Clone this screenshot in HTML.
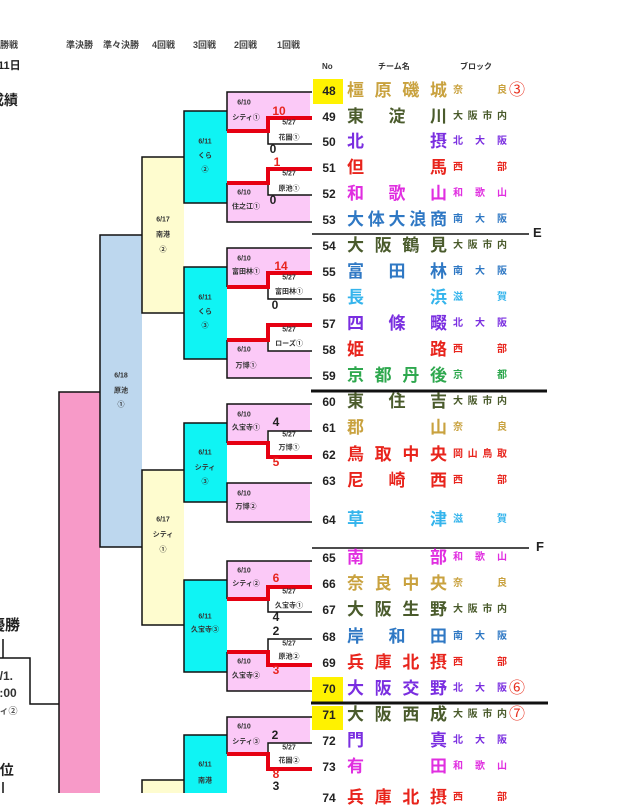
<!DOCTYPE html>
<html><head><meta charset="utf-8">
<style>
html,body{margin:0;padding:0;background:#fff;}
body{width:640px;height:793px;position:relative;overflow:hidden;font-family:"Liberation Sans","Noto Sans CJK JP",sans-serif;}
svg{position:absolute;left:0;top:0;}
.row{position:absolute;left:0;width:640px;height:26px;}
.n{position:absolute;left:320px;width:18px;text-align:center;font-size:12px;font-weight:bold;color:#222;line-height:26px;}
.t{position:absolute;left:347px;width:100px;display:flex;justify-content:space-between;font-size:17px;font-weight:bold;line-height:26px;}
.b{position:absolute;left:453px;width:54px;display:flex;justify-content:space-between;font-size:10px;font-weight:bold;line-height:26px;}
.c{position:absolute;left:509px;font-size:16px;color:#e8301f;line-height:26px;}
.yl{position:absolute;background:#fff200;}
.gold{color:#c9a23f}.olive{color:#4a5b2c}.pur{color:#7a2ee0}.red{color:#e8241c}.mag{color:#e02ee0}.blu{color:#2f78c4}.lb{color:#34b4ec}.grn{color:#2ea84e}
</style></head><body>

<div class="yl" style="left:313px;top:79px;width:30px;height:25px"></div>
<div class="yl" style="left:312px;top:677px;width:31px;height:25px"></div>
<div class="yl" style="left:312px;top:706px;width:31px;height:24px"></div>

<svg width="640" height="793" viewBox="0 0 640 793" font-family="Liberation Sans, Noto Sans CJK JP, sans-serif">
<!-- header -->
<g font-size="9" font-weight="bold" fill="#444">
<text x="-9" y="48">決勝戦</text>
<text x="66" y="48">準決勝</text>
<text x="103" y="48">準々決勝</text>
<text x="152" y="48">4回戦</text>
<text x="193" y="48">3回戦</text>
<text x="234" y="48">2回戦</text>
<text x="277" y="48">1回戦</text>
</g>
<text x="-13" y="69" font-size="11" font-weight="bold" fill="#222">月11日</text>
<text x="-10" y="105" font-size="14" font-weight="bold" fill="#222">成績</text>
<text x="-10" y="630" font-size="15" font-weight="bold" fill="#222">優勝</text>
<text x="-7" y="680" font-size="12" font-weight="bold" fill="#333">7/1.</text>
<text x="-14" y="697" font-size="12" font-weight="bold" fill="#333">10:00</text>
<text x="-18" y="714" font-size="9" font-weight="bold" fill="#555">シティ②</text>
<text x="-8" y="775" font-size="14" font-weight="bold" fill="#222">3位</text>

<g font-size="8" font-weight="bold" fill="#333">
<text x="322" y="69">No</text>
<text x="378" y="69">チーム名</text>
<text x="460" y="69">ブロック</text>
</g>

<!-- big boxes -->
<rect x="59" y="392" width="41" height="401" fill="#f79ac8"/>
<rect x="100" y="235" width="42" height="312" fill="#bdd7ee"/>
<rect x="142" y="157" width="42" height="156" fill="#fefccf"/>
<rect x="142" y="470" width="42" height="155" fill="#fefccf"/>
<rect x="142" y="780" width="42" height="13" fill="#fefccf"/>
<rect x="184" y="111" width="43" height="92" fill="#0ff4f4"/>
<rect x="184" y="267" width="43" height="92" fill="#0ff4f4"/>
<rect x="184" y="423" width="43" height="79" fill="#0ff4f4"/>
<rect x="184" y="580" width="43" height="92" fill="#0ff4f4"/>
<rect x="184" y="735" width="43" height="58" fill="#0ff4f4"/>
<!-- 2nd round pink -->
<g fill="#fbc9f7">
<rect x="227" y="92" width="83" height="39"/>
<rect x="227" y="183" width="83" height="39"/>
<rect x="227" y="248" width="83" height="39"/>
<rect x="227" y="340" width="83" height="38"/>
<rect x="227" y="404" width="83" height="39"/>
<rect x="227" y="483" width="83" height="39"/>
<rect x="227" y="561" width="83" height="38"/>
<rect x="227" y="652" width="83" height="39"/>
<rect x="227" y="717" width="83" height="37"/>
</g>
<!-- 1st round white boxes -->
<g fill="#fff">
<rect x="267" y="118" width="43" height="26"/>
<rect x="267" y="169" width="43" height="26"/>
<rect x="267" y="273" width="43" height="26"/>
<rect x="267" y="325" width="43" height="26"/>
<rect x="267" y="431" width="43" height="26"/>
<rect x="267" y="587" width="43" height="25"/>
<rect x="267" y="639" width="43" height="26"/>
<rect x="267" y="743" width="43" height="26"/>
</g>

<!-- black lines -->
<g stroke="#111" stroke-width="1.5" fill="none">
<path d="M3 639V658M0 658H30V704H59M3 782V793"/>
<path d="M100 392H59V793"/>
<path d="M142 235H100V547H142"/>
<path d="M184 157H142V313H184"/>
<path d="M184 470H142V625H184"/>
<path d="M184 780H142V793"/>
<path d="M227 111H184V203H227"/>
<path d="M227 267H184V359H227"/>
<path d="M227 423H184V502H227"/>
<path d="M227 580H184V672H227"/>
<path d="M227 735H184V793"/>
<!-- pink 2nd round -->
<path d="M312 92H227V131"/>
<path d="M227 183V222H312"/>
<path d="M312 248H227V287"/>
<path d="M227 340V378H312"/>
<path d="M312 404H227V443"/>
<path d="M312 483H227V522H312"/>
<path d="M312 561H227V599"/>
<path d="M227 652V691H312"/>
<path d="M312 717H227V754"/>
<!-- 1st round boxes -->
<path d="M268 118V144H312"/>
<path d="M268 169V195H312"/>
<path d="M268 273V299H312"/>
<path d="M268 325V351H312"/>
<path d="M312 431H268V457"/>
<path d="M268 587V612H312"/>
<path d="M312 639H268V665"/>
<path d="M312 743H268V769"/>
</g>
<!-- red winner lines -->
<g stroke="#e60012" stroke-width="4" fill="none">
<path d="M312 118H268V131H227"/>
<path d="M312 169H268V183H227"/>
<path d="M312 273H268V287H227"/>
<path d="M312 325H268V340H227"/>
<path d="M312 457H268V443H227"/>
<path d="M312 587H268V599H227"/>
<path d="M312 665H268V652H227"/>
<path d="M312 769H268V754H227"/>
</g>

<!-- table separators -->
<g stroke="#111" fill="none">
<path d="M312 234H529" stroke-width="1.5"/>
<path d="M311 391H547" stroke-width="3"/>
<path d="M312 548H529" stroke-width="1.5"/>
<path d="M311 703H548" stroke-width="3"/>
</g>
<text x="533" y="237" font-size="13" font-weight="bold" fill="#222">E</text>
<text x="536" y="551" font-size="13" font-weight="bold" fill="#222">F</text>

<!-- box labels -->
<g font-size="7" font-weight="bold" fill="#333" text-anchor="middle" dominant-baseline="central">
<text x="121" y="376">6/18</text><text x="121" y="391">原池</text><text x="121" y="405">①</text>
<text x="163" y="220">6/17</text><text x="163" y="235">南港</text><text x="163" y="250">②</text>
<text x="163" y="520">6/17</text><text x="163" y="535">シティ</text><text x="163" y="550">①</text>
<text x="205" y="142">6/11</text><text x="205" y="156">くら</text><text x="205" y="170">②</text>
<text x="205" y="298">6/11</text><text x="205" y="312">くら</text><text x="205" y="326">③</text>
<text x="205" y="453">6/11</text><text x="205" y="468">シティ</text><text x="205" y="482">③</text>
<text x="205" y="617">6/11</text><text x="205" y="630">久宝寺③</text>
<text x="205" y="765">6/11</text><text x="205" y="781">南港</text>

<text x="244" y="103">6/10</text><text x="246" y="118">シティ①</text>
<text x="244" y="193">6/10</text><text x="246" y="207">住之江①</text>
<text x="244" y="259">6/10</text><text x="246" y="272">富田林①</text>
<text x="244" y="350">6/10</text><text x="246" y="366">万博①</text>
<text x="244" y="415">6/10</text><text x="246" y="428">久宝寺①</text>
<text x="244" y="494">6/10</text><text x="246" y="507">万博②</text>
<text x="244" y="571">6/10</text><text x="246" y="584">シティ②</text>
<text x="244" y="662">6/10</text><text x="246" y="676">久宝寺②</text>
<text x="244" y="727">6/10</text><text x="246" y="742">シティ③</text>

<text x="289" y="123">5/27</text><text x="289" y="138">花園①</text>
<text x="289" y="174">5/27</text><text x="289" y="189">原池①</text>
<text x="289" y="278">5/27</text><text x="289" y="292">富田林①</text>
<text x="289" y="330">5/27</text><text x="289" y="344">ローズ①</text>
<text x="289" y="435">5/27</text><text x="289" y="448">万博①</text>
<text x="289" y="592">5/27</text><text x="289" y="606">久宝寺①</text>
<text x="289" y="644">5/27</text><text x="289" y="657">原池②</text>
<text x="289" y="748">5/27</text><text x="289" y="761">花園②</text>
</g>

<!-- scores -->
<g font-size="12" font-weight="bold" text-anchor="middle" dominant-baseline="central">
<g fill="#e8251f">
<text x="279" y="111">10</text>
<text x="277" y="162">1</text>
<text x="281" y="266">14</text>
<text x="276" y="462">5</text>
<text x="276" y="578">6</text>
<text x="276" y="670">3</text>
<text x="276" y="774">8</text>
</g>
<g fill="#222">
<text x="273" y="149">0</text>
<text x="273" y="200">0</text>
<text x="275" y="305">0</text>
<text x="276" y="422">4</text>
<text x="276" y="617">4</text>
<text x="276" y="631">2</text>
<text x="275" y="735">2</text>
<text x="276" y="786">3</text>
</g>
</g>
</svg>

<!-- team rows -->
<div class="row" style="top:78px"><div class="n">48</div><div class="t gold"><span>橿</span><span>原</span><span>磯</span><span>城</span></div><div class="b gold"><span>奈</span><span>良</span></div><div class="c">③</div></div>
<div class="row" style="top:104px"><div class="n">49</div><div class="t olive"><span>東</span><span>淀</span><span>川</span></div><div class="b olive"><span>大</span><span>阪</span><span>市</span><span>内</span></div></div>
<div class="row" style="top:129px"><div class="n">50</div><div class="t pur"><span>北</span><span>摂</span></div><div class="b pur"><span>北</span><span>大</span><span>阪</span></div></div>
<div class="row" style="top:155px"><div class="n">51</div><div class="t red"><span>但</span><span>馬</span></div><div class="b red"><span>西</span><span>部</span></div></div>
<div class="row" style="top:181px"><div class="n">52</div><div class="t mag"><span>和</span><span>歌</span><span>山</span></div><div class="b mag"><span>和</span><span>歌</span><span>山</span></div></div>
<div class="row" style="top:207px"><div class="n">53</div><div class="t blu"><span>大</span><span>体</span><span>大</span><span>浪</span><span>商</span></div><div class="b blu"><span>南</span><span>大</span><span>阪</span></div></div>
<div class="row" style="top:233px"><div class="n">54</div><div class="t olive"><span>大</span><span>阪</span><span>鶴</span><span>見</span></div><div class="b olive"><span>大</span><span>阪</span><span>市</span><span>内</span></div></div>
<div class="row" style="top:259px"><div class="n">55</div><div class="t blu"><span>富</span><span>田</span><span>林</span></div><div class="b blu"><span>南</span><span>大</span><span>阪</span></div></div>
<div class="row" style="top:285px"><div class="n">56</div><div class="t lb"><span>長</span><span>浜</span></div><div class="b lb"><span>滋</span><span>賀</span></div></div>
<div class="row" style="top:311px"><div class="n">57</div><div class="t pur"><span>四</span><span>條</span><span>畷</span></div><div class="b pur"><span>北</span><span>大</span><span>阪</span></div></div>
<div class="row" style="top:337px"><div class="n">58</div><div class="t red"><span>姫</span><span>路</span></div><div class="b red"><span>西</span><span>部</span></div></div>
<div class="row" style="top:363px"><div class="n">59</div><div class="t grn"><span>京</span><span>都</span><span>丹</span><span>後</span></div><div class="b grn"><span>京</span><span>都</span></div></div>
<div class="row" style="top:389px"><div class="n">60</div><div class="t olive"><span>東</span><span>住</span><span>吉</span></div><div class="b olive"><span>大</span><span>阪</span><span>市</span><span>内</span></div></div>
<div class="row" style="top:415px"><div class="n">61</div><div class="t gold"><span>郡</span><span>山</span></div><div class="b gold"><span>奈</span><span>良</span></div></div>
<div class="row" style="top:442px"><div class="n">62</div><div class="t red"><span>鳥</span><span>取</span><span>中</span><span>央</span></div><div class="b red"><span>岡</span><span>山</span><span>鳥</span><span>取</span></div></div>
<div class="row" style="top:468px"><div class="n">63</div><div class="t red"><span>尼</span><span>崎</span><span>西</span></div><div class="b red"><span>西</span><span>部</span></div></div>
<div class="row" style="top:507px"><div class="n">64</div><div class="t lb"><span>草</span><span>津</span></div><div class="b lb"><span>滋</span><span>賀</span></div></div>
<div class="row" style="top:545px"><div class="n">65</div><div class="t mag"><span>南</span><span>部</span></div><div class="b mag"><span>和</span><span>歌</span><span>山</span></div></div>
<div class="row" style="top:571px"><div class="n">66</div><div class="t gold"><span>奈</span><span>良</span><span>中</span><span>央</span></div><div class="b gold"><span>奈</span><span>良</span></div></div>
<div class="row" style="top:597px"><div class="n">67</div><div class="t olive"><span>大</span><span>阪</span><span>生</span><span>野</span></div><div class="b olive"><span>大</span><span>阪</span><span>市</span><span>内</span></div></div>
<div class="row" style="top:624px"><div class="n">68</div><div class="t blu"><span>岸</span><span>和</span><span>田</span></div><div class="b blu"><span>南</span><span>大</span><span>阪</span></div></div>
<div class="row" style="top:650px"><div class="n">69</div><div class="t red"><span>兵</span><span>庫</span><span>北</span><span>摂</span></div><div class="b red"><span>西</span><span>部</span></div></div>
<div class="row" style="top:676px"><div class="n">70</div><div class="t pur"><span>大</span><span>阪</span><span>交</span><span>野</span></div><div class="b pur"><span>北</span><span>大</span><span>阪</span></div><div class="c">⑥</div></div>
<div class="row" style="top:702px"><div class="n">71</div><div class="t olive"><span>大</span><span>阪</span><span>西</span><span>成</span></div><div class="b olive"><span>大</span><span>阪</span><span>市</span><span>内</span></div><div class="c">⑦</div></div>
<div class="row" style="top:728px"><div class="n">72</div><div class="t pur"><span>門</span><span>真</span></div><div class="b pur"><span>北</span><span>大</span><span>阪</span></div></div>
<div class="row" style="top:754px"><div class="n">73</div><div class="t mag"><span>有</span><span>田</span></div><div class="b mag"><span>和</span><span>歌</span><span>山</span></div></div>
<div class="row" style="top:785px"><div class="n">74</div><div class="t red"><span>兵</span><span>庫</span><span>北</span><span>摂</span></div><div class="b red"><span>西</span><span>部</span></div></div>

</body></html>
